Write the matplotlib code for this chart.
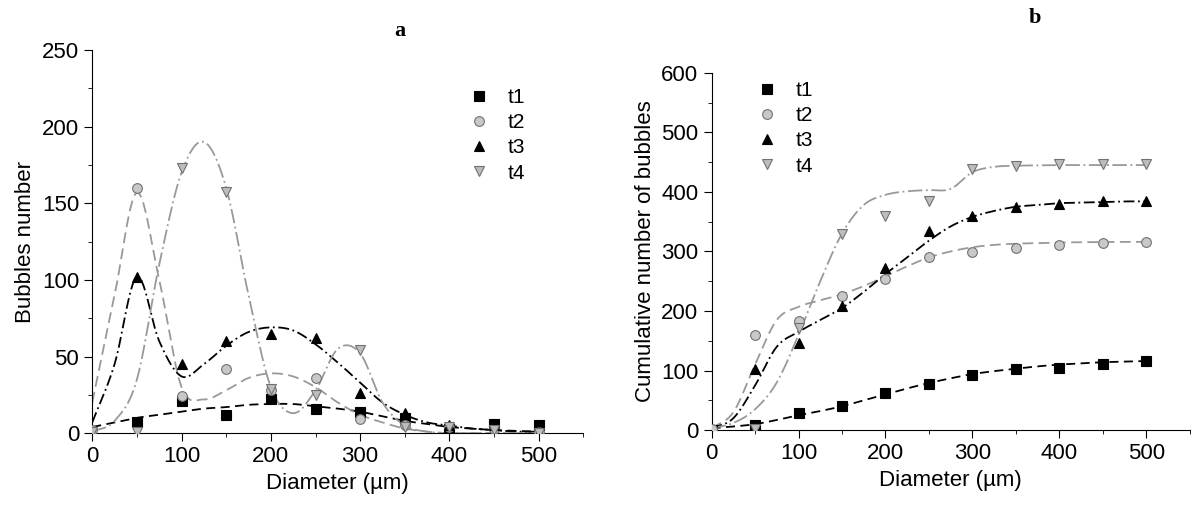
import numpy as np
import matplotlib
matplotlib.use("Agg")
import matplotlib.pyplot as plt
from matplotlib.ticker import MultipleLocator

# ---- data ----
x_pts = [0, 50, 100, 150, 200, 250, 300, 350, 400, 450, 500]
a_t1 = [None, 7, 21, 12, 22, 16, 14, 10, 3, 6, 5]
a_t2 = [2, 160, 24, 42, 28, 36, 9, 5, 4, 3, 1]
a_t3 = [None, 102, 45, 60, 65, 62, 26, 13, 5, 5, 1]
a_t4 = [1, 1, 173, 157, 29, 25, 54, 4, 4, 2, 0]

b_t1 = [1, 8, 28, 40, 62, 78, 92, 102, 105, 111, 116]
b_t2 = [2, 160, 184, 226, 254, 290, 299, 305, 311, 315, 316]
b_t3 = [None, 102, 147, 208, 272, 334, 360, 374, 380, 384, 384]
b_t4 = [None, 2, 172, 330, 360, 385, 439, 443, 446, 447, 447]

# fitted curves
xc = [0, 25, 50, 75, 100, 125, 150, 175, 200, 225, 250, 275, 300, 325, 350, 375, 400, 425, 450, 475, 500]
ca_t1 = [4, 7, 10, 12, 14, 16, 17, 18.5, 19, 19, 17.5, 16, 14, 11, 8, 6, 4, 3, 2, 1.5, 1]
ca_t2 = [20, 90, 157, 100, 30, 22, 28, 36, 39, 37, 30, 20, 12, 7, 3, 1, 0, 0, 0, 0, 0]
ca_t3 = [7, 45, 102, 60, 37, 45, 57, 66, 69, 67, 58, 46, 33, 20, 12, 7, 5, 3, 2, 1, 1]
ca_t4 = [1, 8, 35, 110, 170, 190, 160, 90, 30, 13, 28, 55, 52, 20, 5, 1, 0, 0, 0, 0, 0]

cb_t1 = [3, 6, 10, 17, 25, 32, 40, 50, 60, 70, 79, 87, 94, 99, 103, 107, 110, 112, 114, 115, 116]
cb_t2 = [3, 30, 110, 185, 207, 218, 228, 242, 258, 275, 290, 300, 307, 311, 313, 314, 315, 315.5, 316, 316, 316]
cb_t3 = [3, 20, 75, 140, 165, 185, 205, 232, 262, 290, 318, 342, 358, 368, 375, 378, 381, 382, 383, 384, 384]
cb_t4 = [3, 12, 35, 80, 160, 250, 330, 378, 395, 401, 403, 405, 433, 442, 444, 444.5, 445, 445, 445, 445, 445]


def smooth(x, y, n=10):
    x = np.asarray(x, float); y = np.asarray(y, float)
    xp = np.concatenate([[2*x[0]-x[1]], x, [2*x[-1]-x[-2]]])
    yp = np.concatenate([[2*y[0]-y[1]], y, [2*y[-1]-y[-2]]])
    xs, ys = [], []
    t = np.linspace(0, 1, n, endpoint=False)
    for i in range(1, len(x)):
        p0, p1, p2, p3 = yp[i-1], yp[i], yp[i+1], yp[i+2]
        q0, q1, q2, q3 = xp[i-1], xp[i], xp[i+1], xp[i+2]
        f = lambda a0, a1, a2, a3: 0.5*((2*a1) + (-a0+a2)*t + (2*a0-5*a1+4*a2-a3)*t**2 + (-a0+3*a1-3*a2+a3)*t**3)
        xs.append(f(q0, q1, q2, q3)); ys.append(f(p0, p1, p2, p3))
    xs.append([x[-1]]); ys.append([y[-1]])
    return np.concatenate(xs), np.concatenate(ys)


plt.rcParams['font.family'] = ['Liberation Sans', 'DejaVu Sans']
fig = plt.figure(figsize=(11.98, 5.09), dpi=100)
axa = fig.add_axes([0.077, 0.149, 0.41, 0.753])
axb = fig.add_axes([0.594, 0.155, 0.399, 0.702])

lgray = '#999999'
styles = [
    dict(marker='s', mfc='black', mec='black', lc='black', ls=(0, (5, 3))),
    dict(marker='o', mfc='#c8c8c8', mec='#707070', lc=lgray, ls=(0, (6, 3))),
    dict(marker='^', mfc='black', mec='black', lc='black', ls=(0, (6, 2, 1, 2))),
    dict(marker='v', mfc='#bdbdbd', mec='#707070', lc=lgray, ls=(0, (8, 2, 1, 2))),
]
labels = ['t1', 't2', 't3', 't4']


def draw(ax, pts, curves):
    for st, p, c, lab in zip(styles, pts, curves, labels):
        xs, ys = smooth(xc, c)
        ys = np.maximum(ys, 0)
        ax.plot(xs, ys, color=st['lc'], ls=st['ls'], lw=1.3, zorder=2)
        xx = [xv for xv, yv in zip(x_pts, p) if yv is not None]
        yy = [yv for yv in p if yv is not None]
        ax.plot(xx, yy, ls='none', marker=st['marker'], ms=7, mfc=st['mfc'], mec=st['mec'],
                mew=0.8, label=lab, zorder=3)
    for s in ['top', 'right']:
        ax.spines[s].set_visible(False)
    ax.set_xlim(0, 550)
    ax.xaxis.set_major_locator(MultipleLocator(100))
    ax.xaxis.set_minor_locator(MultipleLocator(50))
    ax.tick_params(labelsize=16, direction='out', length=6)
    ax.tick_params(which='minor', length=3)
    ax.set_xlabel('Diameter (µm)', fontsize=16)


draw(axa, [a_t1, a_t2, a_t3, a_t4], [ca_t1, ca_t2, ca_t3, ca_t4])
axa.set_ylim(0, 250)
axa.yaxis.set_major_locator(MultipleLocator(50))
axa.yaxis.set_minor_locator(MultipleLocator(25))
axa.set_ylabel('Bubbles number', fontsize=16)
axa.legend(loc='upper right', bbox_to_anchor=(0.92, 0.95), frameon=False, fontsize=15,
           handletextpad=0.8, labelspacing=0.3, markerfirst=True, handlelength=1.2)

draw(axb, [b_t1, b_t2, b_t3, b_t4], [cb_t1, cb_t2, cb_t3, cb_t4])
axb.set_ylim(0, 600)
axb.yaxis.set_major_locator(MultipleLocator(100))
axb.yaxis.set_minor_locator(MultipleLocator(50))
axb.set_ylabel('Cumulative number of bubbles', fontsize=16)
axb.legend(loc='upper left', bbox_to_anchor=(0.05, 1.03), frameon=False, fontsize=15,
           handletextpad=0.8, labelspacing=0.3, handlelength=1.2)

fig.text(0.334, 0.93, 'a', fontsize=16, fontweight='bold', family='Liberation Serif', ha='center')
fig.text(0.864, 0.955, 'b', fontsize=16, fontweight='bold', family='Liberation Serif', ha='center')

fig.savefig('out.png', dpi=100)
